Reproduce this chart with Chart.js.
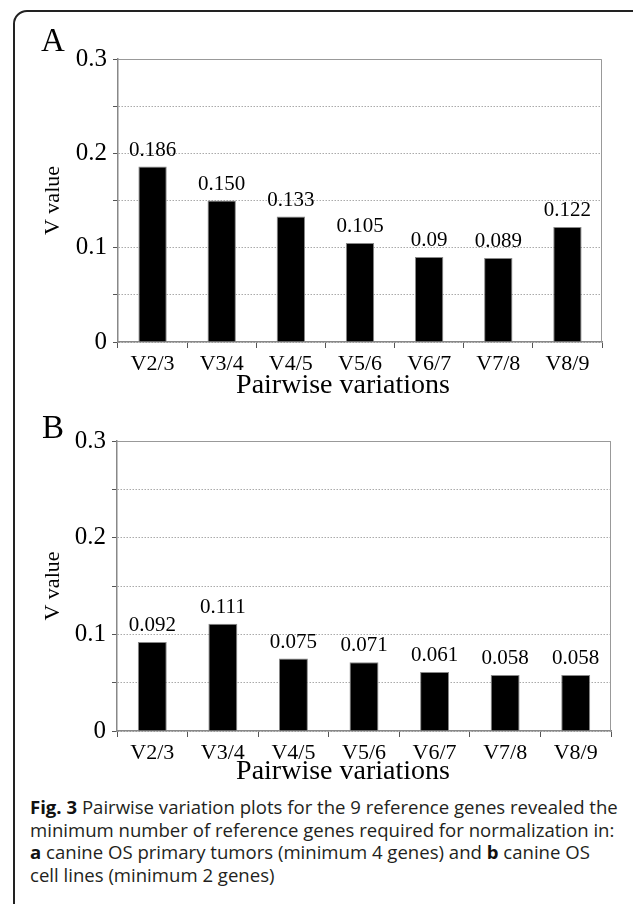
<!DOCTYPE html>
<html>
<head>
<meta charset="utf-8">
<script src="https://cdn.jsdelivr.net/npm/chart.js@4.4.0/dist/chart.umd.min.js"></script>
<style>
  html, body { margin: 0; padding: 0; background: #fff; }
  body { width: 633px; height: 904px; position: relative; overflow: hidden; }
  .frame {
    position: absolute; left: 13px; top: 10px; width: 634px; height: 1000px;
    border: 2px solid #222; border-radius: 14px; box-sizing: border-box;
    pointer-events: none;
  }
  canvas { position: absolute; left: 0; }
  #chartA { top: 0; }
  #chartB { top: 400px; }
  .panel {
    position: absolute; font-family: 'Liberation Serif', serif; font-size: 33px;
    line-height: 33px; color: #000;
  }
  .caption {
    position: absolute; left: 30px; top: 796px; font-family: 'Open Sans', sans-serif;
    font-size: 18px; line-height: 22.7px; color: #231f20; white-space: nowrap;
    transform-origin: 0 0;
  }
  .caption b { font-weight: 700; color: #111; }
</style>
</head>
<body>
<div class="frame"></div>
<canvas id="chartA" width="633" height="400"></canvas>
<canvas id="chartB" width="633" height="386"></canvas>
<div class="panel" style="left:41px; top:24px;">A</div>
<div class="panel" style="left:42px; top:411px;">B</div>
<div class="caption" id="caption">
  <div id="capLine1"><b>Fig. 3</b> Pairwise variation plots for the 9 reference genes revealed the</div>
  <div>minimum number of reference genes required for normalization in:</div>
  <div><b>a</b> canine OS primary tumors (minimum 4 genes) and <b>b</b> canine OS</div>
  <div>cell lines (minimum 2 genes)</div>
</div>
<script>
const categories = ['V2/3', 'V3/4', 'V4/5', 'V5/6', 'V6/7', 'V7/8', 'V8/9'];
const valuesA = [0.186, 0.150, 0.133, 0.105, 0.09, 0.089, 0.122];
const labelsA = ['0.186', '0.150', '0.133', '0.105', '0.09', '0.089', '0.122'];
const valuesB = [0.092, 0.111, 0.075, 0.071, 0.061, 0.058, 0.058];
const labelsB = ['0.092', '0.111', '0.075', '0.071', '0.061', '0.058', '0.058'];
const yTickLabels = ['0', '0.1', '0.2', '0.3'];
const xTitle = 'Pairwise variations';

Chart.defaults.font.family = "'Liberation Serif', 'Times New Roman', serif";
Chart.defaults.color = '#000';

// grey box round the plot area, the value over each bar, and the x title
// (the title sits a bit left of the plot centre in the figure)
const plotFrame = {
  id: 'plotFrame',
  afterDatasetsDraw(chart, args, opts) {
    const { ctx, chartArea: a } = chart;
    ctx.save();
    ctx.strokeStyle = '#999';
    ctx.lineWidth = 1;
    ctx.beginPath();
    ctx.moveTo(a.left, a.top + 0.5);
    ctx.lineTo(a.right - 0.5, a.top + 0.5);
    ctx.lineTo(a.right - 0.5, a.bottom);
    ctx.stroke();

    ctx.fillStyle = '#000';
    ctx.font = "21px 'Liberation Serif', serif";
    ctx.textAlign = 'center';
    ctx.textBaseline = 'alphabetic';
    chart.getDatasetMeta(0).data.forEach((bar, i) => {
      ctx.fillText(opts.labels[i], bar.x, bar.y - 11);
    });

    ctx.font = "28px 'Liberation Serif', serif";
    ctx.textBaseline = 'middle';
    ctx.fillText(xTitle, opts.titleX, chart.height - 14);
    ctx.restore();
  }
};

function makeChart(id, values, labels, pad, xHeight, yTitlePad) {
  return new Chart(document.getElementById(id), {
    type: 'bar',
    data: {
      labels: categories,
      datasets: [{
        data: values,
        backgroundColor: '#000',
        borderColor: '#888',
        borderWidth: 1,
        barPercentage: 0.82,
        categoryPercentage: 0.5,
      }],
    },
    options: {
      responsive: false,
      animation: false,
      layout: { padding: pad },
      plugins: {
        legend: { display: false },
        tooltip: { enabled: false },
        plotFrame: { labels: labels, titleX: 343 },
      },
      scales: {
        x: {
          afterFit: (s) => { s.height = xHeight; },
          grid: {
            drawOnChartArea: false, offset: true, tickLength: 6,
            tickColor: '#555', tickWidth: 1,
          },
          border: { color: '#888', width: 1.5 },
          ticks: { font: { size: 22 }, padding: 3, color: '#000' },
        },
        y: {
          min: 0,
          max: 0.3,
          afterFit: (s) => { s.width = 98; },
          ticks: {
            stepSize: 0.05,
            font: { size: 25 },
            padding: 6,
            color: '#000',
            callback: (v) => {
              const i = Math.round(v / 0.1 * 1000) / 1000;
              return Number.isInteger(i) ? yTickLabels[i] : '';
            },
          },
          grid: {
            color: '#aaa', lineWidth: 1, tickLength: 5,
            tickColor: '#555', tickBorderDash: [],
          },
          border: { color: '#888', width: 1.5, dash: [1.5, 1.5] },
          title: {
            display: true, text: 'V value',
            font: { size: 22, lineHeight: 1 }, padding: { top: yTitlePad, bottom: 0 }, color: '#000',
          },
        },
      },
    },
    plugins: [plotFrame],
  });
}

makeChart('chartA', valuesA, labelsA, { left: 20, right: 31, top: 59, bottom: 0 }, 58, 22);
makeChart('chartB', valuesB, labelsB, { left: 19, right: 22, top: 41, bottom: 0 }, 55, 23);

// squeeze the caption so its first line spans the same width as in the figure
const cap = document.getElementById('caption');
const w = document.getElementById('capLine1').scrollWidth;
cap.style.transform = 'scaleX(' + (588 / w) + ')';
</script>
</body>
</html>
